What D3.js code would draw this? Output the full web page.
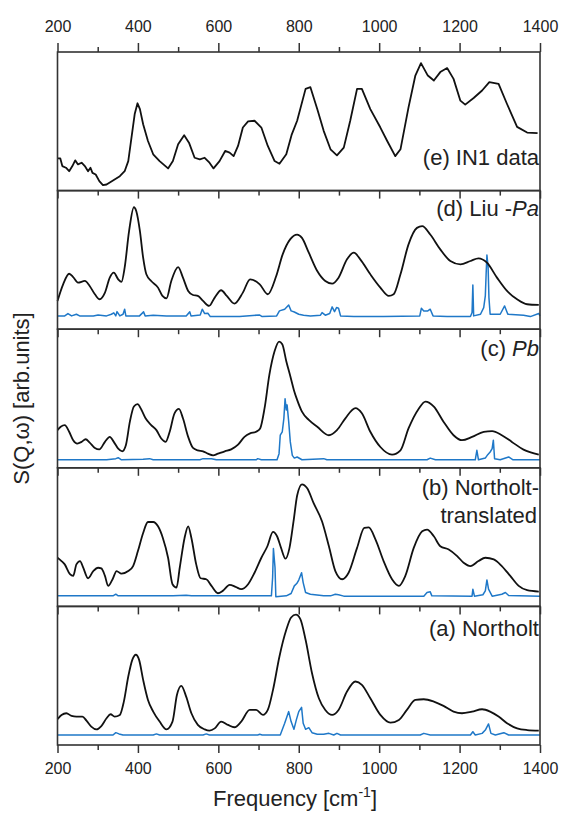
<!DOCTYPE html>
<html>
<head>
<meta charset="utf-8">
<script src="https://cdn.jsdelivr.net/npm/d3@7"></script>
<style>
body { margin: 0; background: #fff; }
svg { display: block; font-family: Arial, "Liberation Sans", sans-serif; }
.axis path, .axis line { stroke: #333; stroke-width: 1.5; }
.axis text { font-size: 16px; fill: #222; }
</style>
</head>
<body>
<svg class="chart"></svg>
<script>
var width = 563,
	height = 814;

var plotLeft = 57.5,
	plotRight = 540,
	plotTop = 52,
	plotBottom = 745;

// tick labels
var majorTicks = [200, 400, 600, 800, 1000, 1200, 1400];
var minorTicks = [300, 500, 700, 900, 1100, 1300];

// (e) IN1 data  [frequency, intensity]
var in1Data = [
	[200, 0.232], [207, 0.232], [212, 0.177], [221, 0.165], [229, 0.140], [237, 0.177], [244, 0.218],
	[251, 0.189], [260, 0.201], [268, 0.177], [276, 0.140], [282, 0.165], [287, 0.128], [295, 0.116],
	[304, 0.068], [313, 0.039], [322, 0.044], [338, 0.073], [355, 0.104], [367, 0.140], [376, 0.213],
	[384, 0.383], [392, 0.552], [399, 0.630], [405, 0.588], [413, 0.479], [425, 0.358], [438, 0.262],
	[454, 0.213], [475, 0.160], [487, 0.213], [500, 0.334], [515, 0.400], [527, 0.346], [541, 0.237],
	[554, 0.225], [566, 0.237], [578, 0.201], [588, 0.160], [603, 0.213], [617, 0.286], [628, 0.274],
	[638, 0.249], [649, 0.322], [661, 0.455], [674, 0.499], [690, 0.504], [707, 0.455], [723, 0.322],
	[740, 0.213], [752, 0.194], [769, 0.262], [782, 0.400], [796, 0.504], [817, 0.734], [829, 0.746],
	[846, 0.588], [862, 0.431], [879, 0.298], [895, 0.254], [912, 0.310], [928, 0.504], [945, 0.734],
	[957, 0.734], [978, 0.588], [1003, 0.455], [1020, 0.358], [1040, 0.249], [1053, 0.298], [1073, 0.600],
	[1090, 0.830], [1104, 0.920], [1121, 0.830], [1136, 0.794], [1152, 0.855], [1169, 0.884], [1185, 0.806],
	[1202, 0.649], [1214, 0.620], [1235, 0.668], [1256, 0.722], [1274, 0.782], [1297, 0.770], [1318, 0.625],
	[1343, 0.460], [1368, 0.419], [1394, 0.414]
];

// (d) Liu - Pa
var liuBroad = [
	[200, 0.204], [214, 0.324], [229, 0.400], [239, 0.376], [251, 0.336], [268, 0.348], [280, 0.312],
	[293, 0.252], [305, 0.216], [318, 0.264], [330, 0.372], [340, 0.408], [351, 0.360], [359, 0.341],
	[367, 0.444], [378, 0.707], [390, 0.880], [396, 0.851], [405, 0.707], [413, 0.516], [421, 0.396],
	[433, 0.348], [450, 0.300], [461, 0.240], [471, 0.223], [483, 0.348], [500, 0.448], [512, 0.372],
	[525, 0.276], [537, 0.247], [549, 0.240], [562, 0.204], [577, 0.168], [591, 0.228], [607, 0.281],
	[621, 0.240], [640, 0.185], [661, 0.264], [679, 0.360], [703, 0.324], [723, 0.252], [744, 0.384],
	[760, 0.540], [779, 0.650], [796, 0.683], [808, 0.659], [825, 0.552], [846, 0.420], [866, 0.348],
	[883, 0.329], [899, 0.372], [920, 0.504], [937, 0.552], [953, 0.504], [978, 0.396], [1003, 0.300],
	[1024, 0.240], [1036, 0.252], [1053, 0.396], [1073, 0.612], [1094, 0.731], [1107, 0.743], [1127, 0.683],
	[1152, 0.576], [1177, 0.492], [1202, 0.468], [1227, 0.492], [1247, 0.511], [1268, 0.480], [1293, 0.372],
	[1318, 0.276], [1343, 0.216], [1368, 0.180], [1397, 0.175]
];
var liuSharp = [
	[200, 0.096], [218, 0.096], [226, 0.113], [235, 0.096], [247, 0.108], [255, 0.096], [289, 0.096],
	[301, 0.103], [322, 0.096], [334, 0.108], [340, 0.118], [345, 0.096], [348, 0.127], [355, 0.096],
	[363, 0.108], [367, 0.144], [370, 0.096], [404, 0.096], [414, 0.125], [418, 0.096], [438, 0.101],
	[471, 0.096], [520, 0.096], [529, 0.125], [532, 0.096], [555, 0.103], [560, 0.144], [566, 0.113],
	[574, 0.115], [580, 0.091], [653, 0.091], [702, 0.103], [709, 0.091], [745, 0.096], [752, 0.132],
	[765, 0.144], [775, 0.175], [781, 0.132], [789, 0.124], [800, 0.108], [812, 0.101], [829, 0.096],
	[854, 0.101], [858, 0.120], [866, 0.101], [877, 0.113], [883, 0.161], [889, 0.127], [894, 0.156],
	[899, 0.151], [904, 0.096], [937, 0.091], [1011, 0.091], [1101, 0.096], [1105, 0.151], [1111, 0.132],
	[1121, 0.132], [1127, 0.144], [1134, 0.096], [1169, 0.091], [1227, 0.091], [1231, 0.120], [1233, 0.319],
	[1235, 0.096], [1252, 0.108], [1260, 0.156], [1264, 0.240], [1266, 0.396], [1268, 0.535], [1271, 0.444],
	[1273, 0.228], [1276, 0.108], [1301, 0.108], [1312, 0.168], [1320, 0.108], [1359, 0.101], [1376, 0.091],
	[1397, 0.113], [1400, 0.096]
];

// (c) Pb
var pbBroad = [
	[200, 0.272], [208, 0.296], [218, 0.308], [229, 0.260], [239, 0.199], [249, 0.175], [260, 0.187],
	[270, 0.206], [280, 0.182], [293, 0.143], [304, 0.133], [318, 0.187], [330, 0.223], [340, 0.187],
	[351, 0.138], [361, 0.119], [370, 0.163], [380, 0.333], [390, 0.442], [399, 0.459], [409, 0.417],
	[419, 0.357], [433, 0.308], [446, 0.272], [458, 0.211], [469, 0.187], [479, 0.260], [491, 0.393],
	[502, 0.425], [512, 0.357], [525, 0.223], [537, 0.143], [549, 0.126], [562, 0.119], [574, 0.102],
	[587, 0.090], [599, 0.102], [616, 0.119], [632, 0.133], [649, 0.167], [665, 0.223], [679, 0.248],
	[694, 0.260], [704, 0.284], [715, 0.430], [727, 0.672], [740, 0.842], [751, 0.910], [759, 0.891],
	[769, 0.769], [780, 0.650], [788, 0.560], [796, 0.490], [808, 0.405], [825, 0.345], [846, 0.296],
	[875, 0.235], [895, 0.272], [916, 0.357], [941, 0.430], [957, 0.393], [978, 0.260], [1003, 0.150],
	[1032, 0.095], [1053, 0.126], [1073, 0.284], [1098, 0.425], [1115, 0.478], [1136, 0.442], [1160, 0.333],
	[1185, 0.235], [1206, 0.199], [1231, 0.223], [1260, 0.260], [1281, 0.265], [1305, 0.235], [1330, 0.187],
	[1359, 0.131], [1397, 0.095]
];
var pbSharp = [
	[200, 0.058], [322, 0.058], [345, 0.066], [351, 0.073], [359, 0.058], [413, 0.061], [429, 0.066],
	[438, 0.058], [554, 0.058], [562, 0.066], [583, 0.066], [595, 0.058], [694, 0.058], [698, 0.066],
	[707, 0.058], [746, 0.058], [751, 0.102], [754, 0.235], [759, 0.260], [763, 0.357], [766, 0.498],
	[769, 0.417], [771, 0.454], [775, 0.333], [779, 0.187], [784, 0.090], [789, 0.070], [796, 0.078],
	[808, 0.058], [862, 0.066], [870, 0.058], [1119, 0.058], [1127, 0.070], [1140, 0.058], [1239, 0.058],
	[1243, 0.126], [1247, 0.058], [1264, 0.070], [1270, 0.095], [1276, 0.114], [1281, 0.138], [1284, 0.199],
	[1287, 0.066], [1301, 0.058], [1322, 0.078], [1333, 0.058], [1400, 0.058]
];

// (b) Northolt-translated
var ntBroad = [
	[200, 0.351], [210, 0.327], [218, 0.303], [231, 0.232], [239, 0.220], [247, 0.303], [256, 0.327],
	[264, 0.279], [276, 0.203], [289, 0.255], [301, 0.279], [309, 0.274], [318, 0.220], [326, 0.148],
	[337, 0.196], [347, 0.255], [359, 0.236], [376, 0.255], [388, 0.291], [400, 0.399], [413, 0.530],
	[425, 0.609], [438, 0.609], [450, 0.578], [462, 0.494], [475, 0.351], [486, 0.160], [496, 0.136],
	[504, 0.279], [516, 0.494], [525, 0.578], [533, 0.494], [545, 0.303], [556, 0.203], [570, 0.196],
	[583, 0.148], [599, 0.095], [611, 0.112], [628, 0.155], [643, 0.141], [657, 0.124], [674, 0.160],
	[690, 0.243], [707, 0.351], [722, 0.434], [736, 0.537], [746, 0.506], [756, 0.422], [767, 0.344],
	[777, 0.422], [787, 0.613], [796, 0.800], [808, 0.881], [821, 0.852], [837, 0.745], [858, 0.613],
	[875, 0.434], [891, 0.255], [908, 0.196], [924, 0.243], [945, 0.422], [963, 0.566], [974, 0.570],
	[991, 0.482], [1011, 0.327], [1032, 0.196], [1049, 0.148], [1065, 0.220], [1086, 0.422], [1107, 0.542],
	[1119, 0.554], [1136, 0.506], [1152, 0.434], [1173, 0.411], [1194, 0.363], [1210, 0.315], [1227, 0.291],
	[1247, 0.327], [1264, 0.351], [1285, 0.339], [1305, 0.291], [1326, 0.220], [1347, 0.148], [1368, 0.117],
	[1397, 0.107]
];
var ntSharp = [
	[200, 0.076], [338, 0.076], [345, 0.088], [351, 0.076], [487, 0.076], [520, 0.081], [533, 0.076],
	[732, 0.076], [735, 0.208], [737, 0.418], [741, 0.279], [743, 0.069], [769, 0.076], [781, 0.093],
	[789, 0.148], [795, 0.165], [800, 0.190], [807, 0.243], [811, 0.172], [817, 0.100], [829, 0.088],
	[862, 0.076], [879, 0.076], [891, 0.088], [899, 0.084], [912, 0.074], [1111, 0.074], [1119, 0.100],
	[1127, 0.105], [1131, 0.076], [1231, 0.074], [1233, 0.124], [1237, 0.074], [1258, 0.084], [1264, 0.112],
	[1268, 0.191], [1272, 0.124], [1281, 0.074], [1305, 0.088], [1314, 0.100], [1322, 0.079], [1400, 0.074]
];

// (a) Northolt
var nBroad = [
	[200, 0.186], [210, 0.217], [222, 0.229], [235, 0.210], [247, 0.205], [262, 0.205], [272, 0.176],
	[284, 0.133], [297, 0.113], [309, 0.137], [322, 0.193], [332, 0.222], [342, 0.205], [355, 0.217],
	[365, 0.313], [376, 0.494], [386, 0.614], [395, 0.651], [403, 0.614], [413, 0.470], [425, 0.325],
	[438, 0.241], [454, 0.169], [471, 0.113], [486, 0.169], [497, 0.361], [508, 0.427], [520, 0.349],
	[533, 0.229], [549, 0.145], [566, 0.113], [578, 0.104], [591, 0.120], [607, 0.169], [624, 0.145],
	[640, 0.128], [657, 0.169], [678, 0.253], [694, 0.253], [711, 0.217], [723, 0.253], [736, 0.398],
	[752, 0.639], [769, 0.831], [781, 0.920], [793, 0.940], [804, 0.908], [817, 0.759], [833, 0.518],
	[850, 0.337], [866, 0.253], [883, 0.217], [899, 0.253], [920, 0.386], [941, 0.458], [957, 0.434],
	[978, 0.337], [1003, 0.217], [1028, 0.161], [1049, 0.181], [1069, 0.253], [1090, 0.325], [1111, 0.330],
	[1136, 0.313], [1160, 0.282], [1185, 0.241], [1206, 0.229], [1231, 0.241], [1256, 0.258], [1276, 0.241],
	[1297, 0.205], [1318, 0.157], [1343, 0.120], [1368, 0.108], [1397, 0.104]
];
var nSharp = [
	[200, 0.072], [338, 0.072], [345, 0.089], [353, 0.080], [363, 0.072], [438, 0.072], [446, 0.080],
	[454, 0.072], [562, 0.072], [570, 0.080], [578, 0.072], [698, 0.072], [703, 0.077], [709, 0.072],
	[754, 0.072], [765, 0.157], [775, 0.241], [781, 0.169], [788, 0.113], [794, 0.181], [800, 0.241],
	[807, 0.272], [811, 0.157], [817, 0.113], [825, 0.125], [833, 0.089], [846, 0.077], [862, 0.077],
	[875, 0.084], [887, 0.072], [895, 0.084], [904, 0.072], [1102, 0.072], [1111, 0.084], [1127, 0.072],
	[1227, 0.072], [1233, 0.096], [1239, 0.072], [1256, 0.084], [1264, 0.108], [1272, 0.152], [1278, 0.084],
	[1289, 0.072], [1310, 0.089], [1322, 0.072], [1400, 0.072]
];

var panelLabels = [
	[['(e) IN1 data', false]],
	[['(d) Liu -', false], ['Pa', true]],
	[['(c) ', false], ['Pb', true]],
	[['(b) Northolt-', false]],
	[['(a) Northolt', false]]
];

var panels = [
	{broad: in1Data, sharp: null, smooth: false, label: panelLabels[0], extra: null, labelY: 165},
	{broad: liuBroad, sharp: liuSharp, smooth: true, label: panelLabels[1], extra: null, labelY: 216},
	{broad: pbBroad, sharp: pbSharp, smooth: true, label: panelLabels[2], extra: null, labelY: 356},
	{broad: ntBroad, sharp: ntSharp, smooth: true, label: panelLabels[3], extra: 'translated', labelY: 495},
	{broad: nBroad, sharp: nSharp, smooth: true, label: panelLabels[4], extra: null, labelY: 636}
];

var panelH = (plotBottom - plotTop) / panels.length;

var xScale = d3.scaleLinear()
	.domain([200, 1400])
	.range([plotLeft, plotRight]);

var svg = d3.select('.chart')
	.attr('width', width)
	.attr('height', height);

//Panels
panels.forEach(function(p, i) {
	var top = plotTop + i * panelH,
		bottom = top + panelH;

	var yScale = d3.scaleLinear()
		.domain([0, 1])
		.range([bottom, top]);

	var g = svg.append('g');

	var broadLine = d3.line()
		.x(d => xScale(d[0]))
		.y(d => yScale(d[1]))
		.curve(p.smooth ? d3.curveMonotoneX : d3.curveLinear);

	if (p.sharp) {
		var sharpLine = d3.line()
			.x(d => xScale(d[0]))
			.y(d => yScale(d[1]));
		g.append('path')
			.datum(p.sharp)
			.attr('d', sharpLine)
			.attr('fill', 'none')
			.attr('stroke', '#1f78c8')
			.attr('stroke-width', 1.5)
			.attr('stroke-linejoin', 'round');
	}

	g.append('path')
		.datum(p.broad)
		.attr('d', broadLine)
		.attr('fill', 'none')
		.attr('stroke', '#111')
		.attr('stroke-width', 1.8)
		.attr('stroke-linejoin', 'round');

	//bottom ticks of each panel
	g.append('g')
		.attr('class', 'axis')
		.attr('transform', 'translate(0,' + bottom + ')')
		.call(d3.axisBottom(xScale).tickValues(majorTicks).tickSize(8)
			.tickFormat(i == panels.length - 1 ? d3.format('d') : ''))
		.call(a => a.select('.domain').remove())
		.call(a => a.selectAll('text').attr('y', 14).attr('dy', '0.95em'));

	g.append('g')
		.attr('class', 'axis')
		.attr('transform', 'translate(0,' + bottom + ')')
		.call(d3.axisBottom(xScale).tickValues(minorTicks).tickSize(5).tickFormat(''))
		.call(a => a.select('.domain').remove());

	//frame
	g.append('rect')
		.attr('x', plotLeft)
		.attr('y', top)
		.attr('width', plotRight - plotLeft)
		.attr('height', panelH)
		.attr('fill', 'none')
		.attr('stroke', '#333')
		.attr('stroke-width', 1.6);

	//label
	var lab = g.append('text')
		.attr('x', plotRight - 1)
		.attr('y', p.labelY)
		.attr('text-anchor', 'end')
		.attr('font-size', 22)
		.attr('fill', '#222');
	p.label.forEach(function(part) {
		lab.append('tspan')
			.attr('font-style', part[1] ? 'italic' : 'normal')
			.text(part[0]);
	});
	if (p.extra) {
		g.append('text')
			.attr('x', plotRight - 3)
			.attr('y', p.labelY + 28)
			.attr('text-anchor', 'end')
			.attr('font-size', 22)
			.attr('fill', '#222')
			.text(p.extra);
	}
});

//Top axis
svg.append('g')
	.attr('class', 'axis')
	.attr('transform', 'translate(0,' + plotTop + ')')
	.call(d3.axisTop(xScale).tickValues(majorTicks).tickSize(9).tickFormat(d3.format('d')))
	.call(a => a.select('.domain').remove())
	.call(a => a.selectAll('text').attr('y', -20).attr('dy', 0));

svg.append('g')
	.attr('class', 'axis')
	.attr('transform', 'translate(0,' + plotTop + ')')
	.call(d3.axisTop(xScale).tickValues(minorTicks).tickSize(5).tickFormat(''))
	.call(a => a.select('.domain').remove());

//Axis titles
var xt = svg.append('text')
	.attr('x', 295)
	.attr('y', 806)
	.attr('text-anchor', 'middle')
	.attr('font-size', 22)
	.attr('fill', '#222');
xt.append('tspan').text('Frequency [cm');
xt.append('tspan').attr('font-size', 14).attr('dy', -9).text('-1');
xt.append('tspan').attr('dy', 9).text(']');

svg.append('text')
	.attr('transform', 'translate(29,' + ((plotTop + plotBottom) / 2) + ') rotate(-90)')
	.attr('text-anchor', 'middle')
	.attr('font-size', 22)
	.attr('fill', '#222')
	.text('S(Q,\u03c9) [arb.units]');
</script>
</body>
</html>
